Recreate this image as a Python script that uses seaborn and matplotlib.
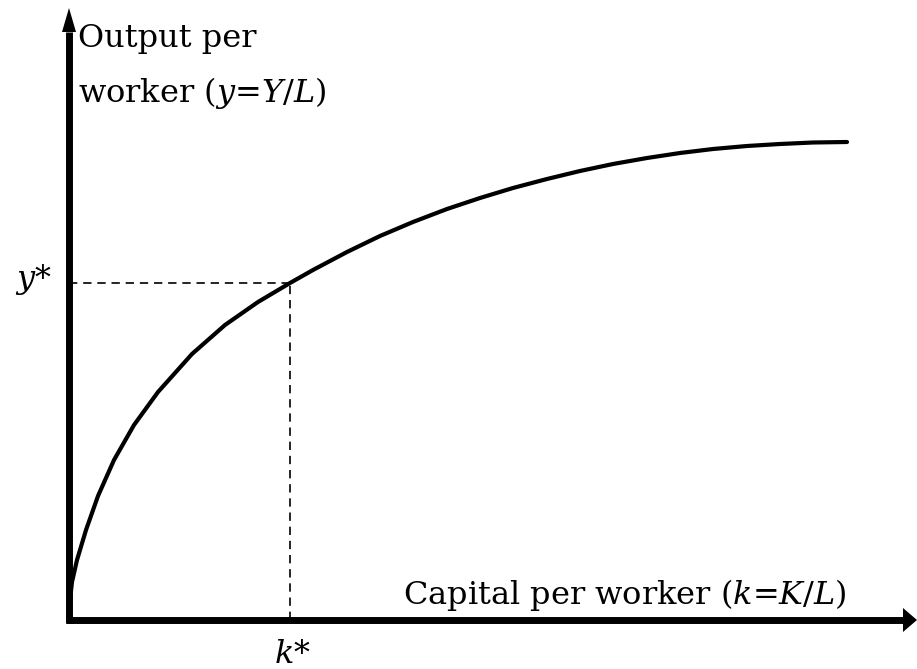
import matplotlib
matplotlib.use("Agg")
import matplotlib.pyplot as plt
import seaborn as sns
import pandas as pd

# curve (pixel-like units, origin at the axis corner)
k_vals = [0, 1, 3, 8, 17, 29, 45, 65, 89, 123, 156, 189, 221, 244, 278,
          311, 344, 378, 411, 444, 478, 511, 544, 578, 611, 644, 678, 711,
          744, 778]
y_vals = [0, 20, 38, 60, 90, 124, 160, 195, 228, 266, 295, 318, 337, 350,
          368, 384, 398, 411, 422, 432, 441, 449, 456, 462, 467, 471, 474,
          476, 477.5, 478]
k_star = 221
y_star = 337

x_label = "Capital per worker ($k$=$K/L$)"
y_label_1 = "Output per"
y_label_2 = "worker ($y$=$Y/L$)"

sns.set_style("white")
plt.rcParams["font.family"] = ["DejaVu Serif"]
plt.rcParams["text.color"] = "black"
plt.rcParams["mathtext.fontset"] = "custom"
plt.rcParams["mathtext.rm"] = "DejaVu Serif"
plt.rcParams["mathtext.it"] = "DejaVu Serif:italic"

fig = plt.figure(figsize=(9.17, 6.69), dpi=100)
ax = fig.add_axes([0, 0, 1, 1])
ax.set_xlim(-69, 848)
ax.set_ylim(-49, 620)
ax.axis("off")

df = pd.DataFrame({"k": k_vals, "y": y_vals})
sns.lineplot(data=df, x="k", y="y", ax=ax, color="black", lw=3,
             sort=False, estimator=None)
ax.lines[-1].set_solid_joinstyle("round")

# dashed guides to y* and k*
ax.plot([0, k_star], [y_star, y_star], color="black", lw=1.2, ls=(0, (5, 3.5)))
ax.plot([k_star, k_star], [0, y_star], color="black", lw=1.2, ls=(0, (5, 3.5)))

# axes with arrow heads
x_end, y_end = 848, 612
ax.plot([-3, x_end - 14], [0, 0], color="black", lw=5, solid_capstyle="butt")
ax.plot([0, 0], [-3, y_end - 24], color="black", lw=5, solid_capstyle="butt")
ax.fill([x_end - 14, x_end, x_end - 14], [-12, 0, 12], color="black", lw=0)
ax.fill([-7, 0, 7], [y_end - 24, y_end, y_end - 24], color="black", lw=0)

fs = 23
ax.text(9, 573, y_label_1, fontsize=fs, va="baseline", ha="left")
ax.text(9, 518, y_label_2, fontsize=fs, va="baseline", ha="left")
ax.text(556, 16, x_label, fontsize=fs, va="baseline", ha="center")
ax.text(-36, 332, "$y$*", fontsize=fs, va="baseline", ha="center")
ax.text(223, -43, "$k$*", fontsize=fs, va="baseline", ha="center")

fig.savefig("out.png", dpi=100)
